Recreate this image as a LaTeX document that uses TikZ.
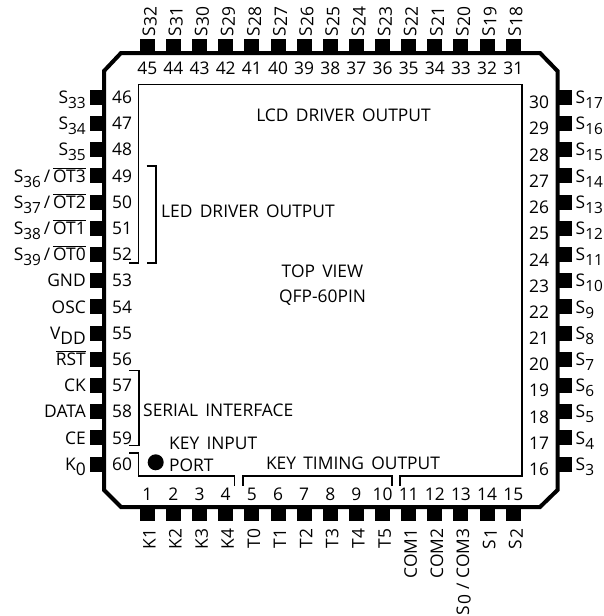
\documentclass[tikz,border=0pt]{standalone}
\usepackage{fontspec}
\setmainfont[WordSpace=1.6]{Open Sans}
\newcommand{\Ssub}[1]{S\raisebox{-5pt}{\fontsize{15.4}{18}\selectfont #1}}
\newcommand{\Srot}[1]{S\kern1pt\raisebox{-1.5pt}{#1}}
\newcommand{\ovl}[1]{$\overline{\hbox{#1}}$}
\tikzset{
  pinlabel/.style={inner sep=0pt,font=\fontsize{17.4}{20}\selectfont},
  bracket/.style={line width=1.3pt},
}
\begin{document}
\begin{tikzpicture}[x=1pt,y=-1pt]
  \useasboundingbox (0,0) rectangle (604,616);
  % package outline
  \draw[line width=4pt] (121,53) -- (540,53) -- (557.5,71) -- (557.5,490) -- (540,507)
    -- (121,507) -- (104,490) -- (104,71) -- cycle;
  % pins on the top and bottom edges
  \foreach \i in {0,...,14} {
    \pgfmathsetmacro{\px}{147.3+26.14*\i}
    \pgfmathtruncatemacro{\numtop}{45-\i}
    \pgfmathtruncatemacro{\numbot}{1+\i}
    \fill (\px-7.5,39) rectangle (\px+7.5,53);
    \fill (\px-7.5,507) rectangle (\px+7.5,521);
    \node[pinlabel] (num\numtop) at (\px,68) {\numtop};
    \node[pinlabel] (num\numbot) at (\px,494.5) {\numbot};
  }
  % pins on the left and right edges
  \foreach \i in {0,...,14} {
    \pgfmathsetmacro{\py}{97.3+26.2*\i}
    \pgfmathsetmacro{\pyr}{102.5+26.2*\i}
    \pgfmathtruncatemacro{\numleft}{46+\i}
    \pgfmathtruncatemacro{\numright}{30-\i}
    \fill (90,\py-7.5) rectangle (104,\py+7.5);
    \fill (557.5,\py-7.5) rectangle (571.5,\py+7.5);
    \node[pinlabel] (num\numleft) at (122,\py) {\numleft};
    \node[pinlabel] (num\numright) at (539,\pyr) {\numright};
  }
  % top labels
  \foreach \i in {0,...,14} {
    \pgfmathsetmacro{\px}{155+26.14*\i}
    \pgfmathtruncatemacro{\sn}{32-\i}
    \node[pinlabel,rotate=90,anchor=base west] (top\sn) at (\px,37) {\Srot{\sn}};
  }
  % right labels
  \foreach \i in {0,...,14} {
    \pgfmathsetmacro{\py}{103.5+26.2*\i}
    \pgfmathtruncatemacro{\sn}{17-\i}
    \node[pinlabel,anchor=base west] (right\sn) at (575.5,\py) {\Ssub{\sn}};
  }
  % left labels
  \foreach \i/\t in {0/{\Ssub{33}},1/{\Ssub{34}},2/{\Ssub{35}},
    3/{\Ssub{36}\,/\,\ovl{OT3}},4/{\Ssub{37}\,/\,\ovl{OT2}},
    5/{\Ssub{38}\,/\,\ovl{OT1}},6/{\Ssub{39}\,/\,\ovl{OT0}},
    7/GND,8/OSC,9/{V\raisebox{-5pt}{DD}},10/\ovl{RST},11/CK,12/DATA,13/CE,14/{K\raisebox{-5pt}{0}}} {
    \pgfmathsetmacro{\py}{103.5+26.2*\i}
    \node[pinlabel,anchor=base east] (left\i) at (86,\py) {\t};
  }
  % bottom labels
  \foreach \i/\t in {0/K1,1/K2,2/K3,3/K4,4/T0,5/T1,6/T2,7/T3,8/T4,9/T5,10/COM1,11/COM2,
    12/{\Srot{0}\;/\;COM3},13/{\Srot{1}},14/{\Srot{2}}} {
    \pgfmathsetmacro{\px}{155.5+26.14*\i}
    \node[pinlabel,rotate=90,anchor=base east] (bot\i) at (\px,528.5) {\t};
  }
  % chip area
  \draw[line width=1.2pt] (129,263) -- (138.7,263) -- (138.7,84.3) -- (522,84.3) -- (522,476)
    -- (400,476) -- (400,485.5);
  \draw[bracket] (392,485.5) -- (392,476) -- (243,476) -- (243,485.5);
  \draw[bracket] (234.5,485.5) -- (234.5,476) -- (138.5,476) -- (138.5,453) -- (129,453);
  \draw[bracket] (129,370.7) -- (139,370.7) -- (139,445.7) -- (129,445.7);
  \draw[bracket] (146.5,166) -- (156,166) -- (156,263) -- (146.5,263);
  \fill (155.7,462.3) circle (8);
  \node[pinlabel,anchor=base] (lcd) at (343.5,121) {LCD DRIVER OUTPUT};
  \node[pinlabel,anchor=base west] (led) at (161,217) {LED DRIVER OUTPUT};
  \node[pinlabel,anchor=base] (top) at (322.5,277.5) {TOP VIEW};
  \node[pinlabel,anchor=base] (qfp) at (322.5,302.5) {QFP-60PIN};
  \node[pinlabel,anchor=base west] (serial) at (143,416) {SERIAL INTERFACE};
  \node[pinlabel,anchor=base west] (keyin) at (169,449) {KEY INPUT};
  \node[pinlabel,anchor=base west] (port) at (169,471.5) {PORT};
  \node[pinlabel,anchor=base] (timing) at (353,469) {KEY TIMING OUTPUT};
\end{tikzpicture}
\end{document}
